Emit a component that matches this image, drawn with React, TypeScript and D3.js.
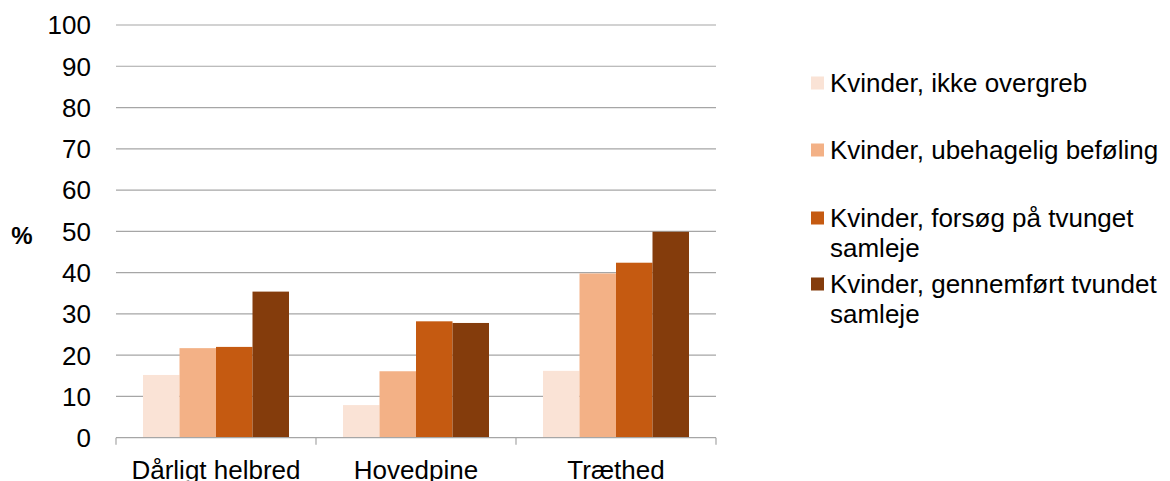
import React from 'react';
import * as d3 from 'd3';

const categories = ['Dårligt helbred', 'Hovedpine', 'Træthed'];
const seriesNames = [
  'Kvinder, ikke overgreb',
  'Kvinder, ubehagelig beføling',
  'Kvinder, forsøg på tvunget samleje',
  'Kvinder, gennemført tvundet samleje',
];
const legendLines = [
  ['Kvinder, ikke overgreb'],
  ['Kvinder, ubehagelig beføling'],
  ['Kvinder, forsøg på tvunget', 'samleje'],
  ['Kvinder, gennemført tvundet', 'samleje'],
];
const ikkeOvergreb = [15.2, 7.9, 16.2];
const ubehageligBefoling = [21.7, 16.1, 39.8];
const forsogTvunget = [22.0, 28.2, 42.4];
const gennemfortTvundet = [35.4, 27.8, 49.9];
const yTicks = [0, 10, 20, 30, 40, 50, 60, 70, 80, 90, 100];
const colors = ['#FAE3D6', '#F3B186', '#C55A11', '#843C0C'];

const W = 1170;
const H = 481;
const FONT = 'Liberation Sans, Arial, sans-serif';

export default function App() {
  const values = [ikkeOvergreb, ubehageligBefoling, forsogTvunget, gennemfortTvundet];
  const x0 = d3.scaleBand<string>().domain(categories).range([116, 716]).paddingInner(0).paddingOuter(0);
  const x1 = d3
    .scaleBand<string>()
    .domain(seriesNames)
    .range([0, x0.bandwidth()])
    .paddingInner(0)
    .paddingOuter(0.74);
  const y = d3.scaleLinear().domain([0, 100]).range([437.7, 25]);
  const legendY = [83, 150, 218, 284];

  return (
    <div style={{ position: 'absolute', left: 0, top: 0 }}>
      <svg width={W} height={H} style={{ display: 'block', fontFamily: FONT }}>
        <rect width={W} height={H} fill="#ffffff" />
        {yTicks.map((t) => (
          <g key={t}>
            {t > 0 && (
              <line x1={116} x2={716} y1={y(t)} y2={y(t)} stroke="#A6A6A6" strokeWidth={1.2} />
            )}
            <text x={91} y={y(t)} dy="0.36em" textAnchor="end" fontSize={26} fill="#000">
              {t}
            </text>
          </g>
        ))}
        <text x={22} y={y(50) + 4} dy="0.36em" textAnchor="middle" fontSize={24} fontWeight="bold" fill="#000">
          %
        </text>
        {categories.map((c, ci) => (
          <g key={c} transform={`translate(${x0(c)},0)`}>
            {seriesNames.map((s, si) => (
              <rect
                key={s}
                x={x1(s)}
                y={y(values[si][ci])}
                width={x1.bandwidth()}
                height={y(0) - y(values[si][ci])}
                fill={colors[si]}
              />
            ))}
          </g>
        ))}
        <line x1={116} x2={716} y1={y(0)} y2={y(0)} stroke="#A6A6A6" strokeWidth={1.2} />
        {[...categories.map((c) => x0(c) as number), 716].map((px, i) => (
          <line key={i} x1={px} x2={px} y1={y(0)} y2={y(0) + 7} stroke="#A6A6A6" strokeWidth={1.2} />
        ))}
        {categories.map((c) => (
          <text
            key={c}
            x={(x0(c) as number) + x0.bandwidth() / 2}
            y={470}
            dy="0.36em"
            textAnchor="middle"
            fontSize={26}
            fill="#000"
          >
            {c}
          </text>
        ))}
        {legendLines.map((lines, i) => (
          <g key={i}>
            <rect x={811} y={legendY[i] - 6.5} width={13} height={13} fill={colors[i]} />
            {lines.map((ln, li) => (
              <text key={li} x={830} y={legendY[i] + li * 30} dy="0.36em" fontSize={26} fill="#000">
                {ln}
              </text>
            ))}
          </g>
        ))}
      </svg>
    </div>
  );
}
